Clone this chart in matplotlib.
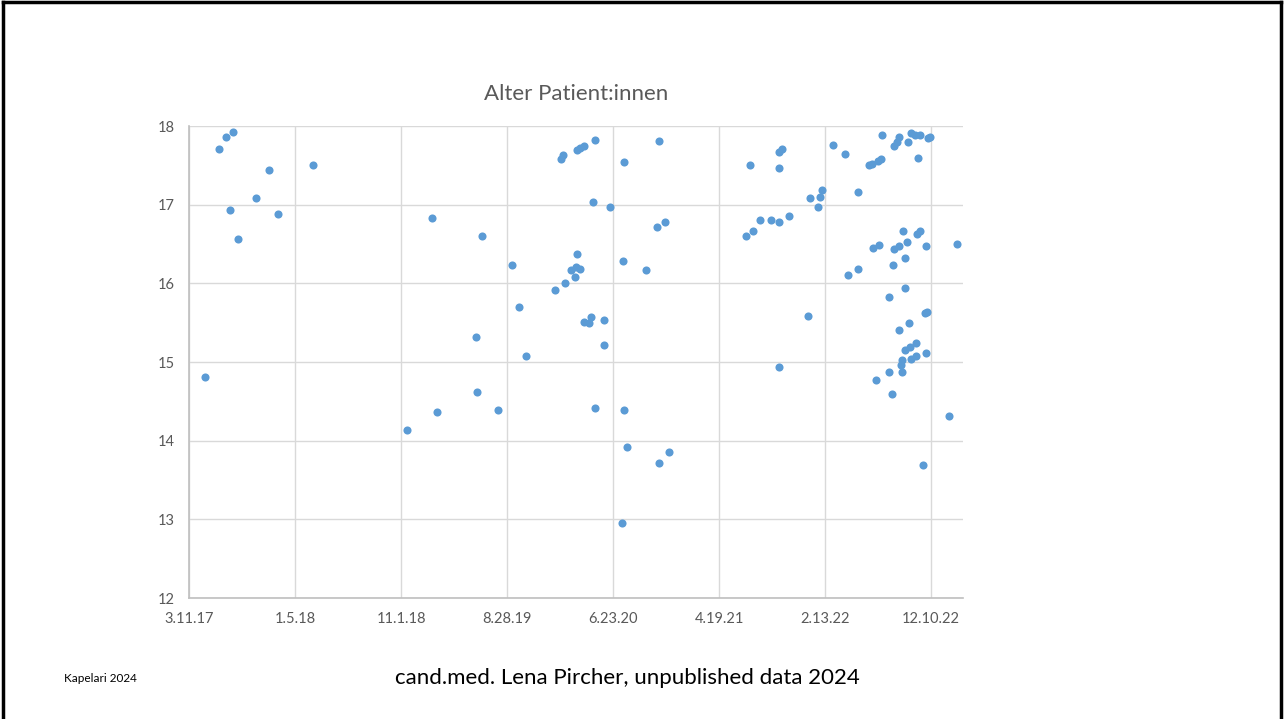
import pandas as pd
import matplotlib.pyplot as plt
import matplotlib.dates as mdates
from matplotlib.ticker import FuncFormatter, MultipleLocator
from matplotlib.lines import Line2D

# Datum als Excel-Seriennummer, Alter in Jahren
excel_dates = [
    42850, 42890, 42909, 42929, 42920, 42945, 42995, 43032, 43056, 43157,
    43423, 43493, 43506, 43617, 43621, 43635, 43678, 43719, 43740, 43759,
    43841, 43858, 43864, 43870, 43886, 43897, 43900, 43912, 43903, 43902,
    43912, 43924, 43954, 43949, 43995, 43923, 43938, 43943, 43978, 43978,
    43953, 44037, 44045, 44029, 44033, 44037, 44098, 44129, 44153, 44136,
    44135, 44164,
    44381, 44391, 44402, 44422, 44452, 44473, 44473, 44473, 44484, 44474,
    44503, 44556, 44561, 44584, 44590, 44596, 44628, 44660, 44669, 44699,
    44699, 44730, 44738, 44755, 44762, 44766, 44741, 44758, 44749, 44786,
    44787, 44793, 44796, 44799, 44800, 44807, 44814, 44814, 44814, 44819,
    44823, 44823, 44826, 44831, 44831, 44831, 44837, 44840, 44842, 44844,
    44848, 44848, 44858, 44861, 44862, 44864, 44868, 44872, 44874, 44881,
    44889, 44888, 44892, 44891, 44897, 44902, 44955, 44978,
]
alter = [
    14.81, 17.71, 17.86, 17.93, 16.93, 16.56, 17.09, 17.44, 16.88, 17.50,
    14.14, 16.83, 14.37, 15.32, 14.62, 16.60, 14.39, 16.23, 15.70, 15.07,
    15.92, 17.58, 17.63, 16.01, 16.17, 16.08, 16.21, 16.18, 16.37, 17.69,
    17.72, 17.75, 17.82, 17.03, 16.97, 15.51, 15.49, 15.57, 15.53, 15.21,
    14.42, 14.39, 13.92, 12.95, 16.28, 17.54, 16.17, 16.71, 16.78, 17.81,
    13.72, 13.86,
    16.60, 17.50, 16.66, 16.81, 16.80, 16.78, 17.47, 17.67, 17.71, 14.94,
    16.86, 15.58, 17.09, 16.97, 17.10, 17.19, 17.76, 17.65, 16.10, 16.18,
    17.16, 17.50, 17.52, 17.56, 17.58, 17.88, 16.45, 16.49, 14.77, 15.83,
    14.87, 14.59, 16.23, 16.44, 17.74, 17.80, 17.86, 15.41, 16.48, 14.96,
    14.87, 15.03, 16.66, 16.32, 15.94, 15.15, 16.52, 17.80, 15.49, 15.19,
    15.04, 17.91, 17.88, 15.07, 15.24, 16.63, 17.59, 17.88, 16.66, 13.69,
    15.11, 15.62, 15.64, 16.48, 17.85, 17.86, 14.31, 16.50,
]

x_start = 42805   # 3.11.17
x_end = 44995
tick_step = 300

def to_date(serial):
    return pd.to_datetime(serial, unit='D', origin='1899-12-30')

dates = to_date(pd.Series(excel_dates))

plt.rcParams['font.family'] = ['Lato', 'DejaVu Sans']

fig = plt.figure(figsize=(12.84, 7.19), dpi=100)
ax = fig.add_axes([189/1284, 1 - 598/719, (963 - 189)/1284, (598 - 126)/719])

ax.scatter(dates, alter, s=34, color='#5B9BD5', zorder=3, linewidths=0)

ax.set_ylim(12, 18)
ax.set_xlim(to_date(x_start), to_date(x_end))
ax.yaxis.set_major_locator(MultipleLocator(1))

ticks = [to_date(x_start + i * tick_step) for i in range(8)]
ax.set_xticks(ticks)
ax.xaxis.set_major_formatter(FuncFormatter(
    lambda v, pos: (lambda d: f'{d.month}.{d.day}.{d.year % 100}')(mdates.num2date(v))))

ax.grid(True, color='#D9D9D9', linewidth=1)
ax.set_axisbelow(True)
for side in ['top', 'right']:
    ax.spines[side].set_visible(False)
for side in ['left', 'bottom']:
    ax.spines[side].set_color('#BFBFBF')
    ax.spines[side].set_linewidth(1.2)
ax.tick_params(length=0, colors='#595959', labelsize=10.5, pad=10)

fig.text(576/1284, 1 - 94/719, 'Alter Patient:innen', ha='center', va='center',
         fontsize=16, color='#595959')
fig.text(627/1284, 1 - 678/719, 'cand.med. Lena Pircher, unpublished data 2024',
         ha='center', va='center', fontsize=16, color='black')
fig.text(64/1284, 1 - 678/719, 'Kapelari 2024', ha='left', va='center',
         fontsize=8.5, color='black')

# Folienrahmen
for xs, ys in [([0.002, 0.002], [0, 0.997]), ([0.002, 0.998], [0.997, 0.997]),
               ([0.998, 0.998], [0.997, 0])]:
    fig.add_artist(Line2D(xs, ys, transform=fig.transFigure, color='black', linewidth=2.5))

fig.savefig('out.png', dpi=100)
